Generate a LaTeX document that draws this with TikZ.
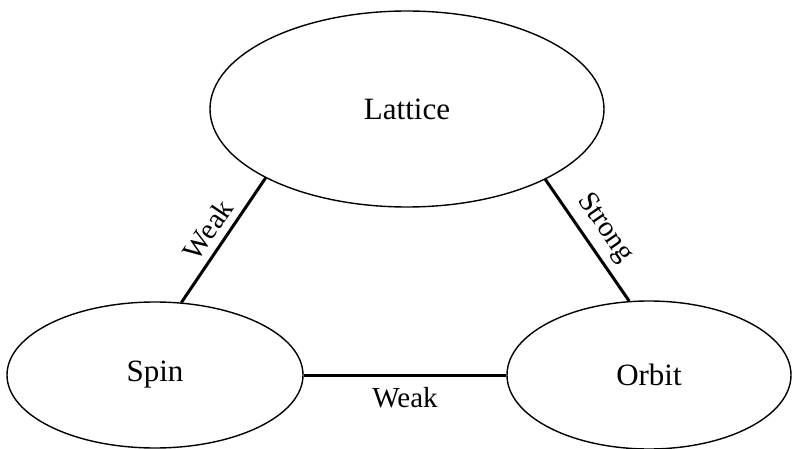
\documentclass[tikz,border=0pt]{standalone}
\usepackage{fontspec}
\setmainfont{Liberation Serif}
\usetikzlibrary{shapes.geometric}
\tikzset{
  state/.style={draw, ellipse, line width=1.4pt, inner sep=0pt, font=\fontsize{31}{37}\selectfont},
  link/.style={line width=3pt},
  lab/.style={font=\fontsize{29}{35}\selectfont, inner sep=3pt},
}
\begin{document}
\begin{tikzpicture}[x=1pt, y=-1pt]
\useasboundingbox (0,0) rectangle (793,449);
\node[state, minimum width=394pt, minimum height=196pt] (lattice) at (407,109) {Lattice};
\node[state, minimum width=296pt, minimum height=146pt] (spin) at (155,375) {Spin};
\node[state, minimum width=284pt, minimum height=148pt] (orbit) at (649,375) {Orbit};
\draw[link] (spin.70) -- node[lab, sloped, above=4pt] {Weak} (lattice.206);
\draw[link] (lattice.333) -- node[lab, sloped, above=4pt] {Strong} (orbit.105);
\draw[link] (spin) -- node[lab, below=8pt] {Weak} (orbit);
\end{tikzpicture}
\end{document}
